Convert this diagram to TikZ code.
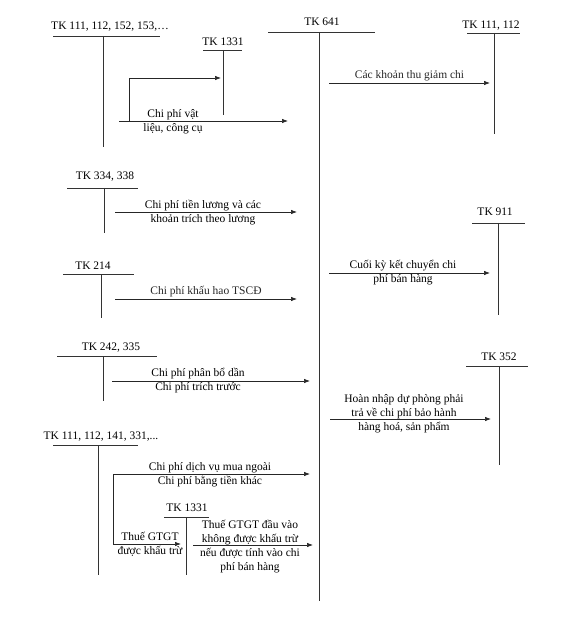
\documentclass[tikz,border=0pt]{standalone}
\usepackage{fontspec}
\setmainfont{Liberation Serif}
\usetikzlibrary{arrows.meta}
\tikzset{
  acct/.style  ={font=\fontsize{11.5}{14}\selectfont, inner sep=0pt,
                 text height=8pt, text depth=2pt},
  lbl/.style   ={font=\fontsize{11.5}{14}\selectfont, align=center,
                 inner sep=0pt},
  tline/.style ={draw=black!80, line width=0.7pt},
  ar/.style    ={-{Latex[length=6pt,width=4.5pt]}, black!85, line width=0.7pt}
}
\begin{document}
\begin{tikzpicture}[x=1pt, y=-1pt]
\useasboundingbox (0,0) rectangle (587,617);

%  TK 641 (central account)
\node[acct] (tk641) at (322,23) {TK 641};
\coordinate (tk641L) at (268,32);
\coordinate (tk641R) at (375,32);
\coordinate (tk641T) at (319,32);
\coordinate (tk641B) at (319,601);
\draw[tline] (tk641L) -- (tk641R);
\draw[tline] (tk641T) -- (tk641B);

%  Left accounts
\node[acct] (tkA) at (110,27) {TK 111, 112, 152, 153,…};
\coordinate (tkAL) at (53,36);  \coordinate (tkAR) at (160,36);
\coordinate (tkAT) at (103,36); \coordinate (tkAB) at (103,147);
\draw[tline] (tkAL) -- (tkAR);
\draw[tline] (tkAT) -- (tkAB);

\node[acct] (vatA) at (223,43) {TK 1331};
\coordinate (vatAL) at (203,50); \coordinate (vatAR) at (242,50);
\coordinate (vatAT) at (223,50); \coordinate (vatAB) at (223,115);
\draw[tline] (vatAL) -- (vatAR);
\draw[tline] (vatAT) -- (vatAB);

\node[acct] (tkB) at (105,177) {TK 334, 338};
\coordinate (tkBL) at (67,188);  \coordinate (tkBR) at (138,188);
\coordinate (tkBT) at (104,188); \coordinate (tkBB) at (104,233);
\draw[tline] (tkBL) -- (tkBR);
\draw[tline] (tkBT) -- (tkBB);

\node[acct] (tkC) at (93,266) {TK 214};
\coordinate (tkCL) at (63,274);  \coordinate (tkCR) at (134,274);
\coordinate (tkCT) at (101,274); \coordinate (tkCB) at (101,318);
\draw[tline] (tkCL) -- (tkCR);
\draw[tline] (tkCT) -- (tkCB);

\node[acct] (tkD) at (111,347) {TK 242, 335};
\coordinate (tkDL) at (57,356);  \coordinate (tkDR) at (157,356);
\coordinate (tkDT) at (103,356); \coordinate (tkDB) at (103,401);
\draw[tline] (tkDL) -- (tkDR);
\draw[tline] (tkDT) -- (tkDB);

\node[acct] (tkE) at (101,436) {TK 111, 112, 141, 331,...};
\coordinate (tkEL) at (53,445);  \coordinate (tkER) at (138,445);
\coordinate (tkET) at (98,445);  \coordinate (tkEB) at (98,575);
\draw[tline] (tkEL) -- (tkER);
\draw[tline] (tkET) -- (tkEB);

\node[acct] (vatE) at (187,508) {TK 1331};
\coordinate (vatEL) at (164,517); \coordinate (vatER) at (209,517);
\coordinate (vatET) at (186,517); \coordinate (vatEB) at (186,575);
\draw[tline] (vatEL) -- (vatER);
\draw[tline] (vatET) -- (vatEB);

%  Right accounts
\node[acct] (tkF) at (491,26) {TK 111, 112};
\coordinate (tkFL) at (467,33);  \coordinate (tkFR) at (520,33);
\coordinate (tkFT) at (494,33);  \coordinate (tkFB) at (494,134);
\draw[tline] (tkFL) -- (tkFR);
\draw[tline] (tkFT) -- (tkFB);

\node[acct] (tkG) at (495,213) {TK 911};
\coordinate (tkGL) at (472,223); \coordinate (tkGR) at (525,223);
\coordinate (tkGT) at (498,223); \coordinate (tkGB) at (498,315);
\draw[tline] (tkGL) -- (tkGR);
\draw[tline] (tkGT) -- (tkGB);

\node[acct] (tkH) at (499,357) {TK 352};
\coordinate (tkHL) at (466,366); \coordinate (tkHR) at (528,366);
\coordinate (tkHT) at (499,366); \coordinate (tkHB) at (499,465);
\draw[tline] (tkHL) -- (tkHR);
\draw[tline] (tkHT) -- (tkHB);

%  Entries into TK 641
\coordinate (a1s) at (119,121); \coordinate (a1e) at (288,121);
\coordinate (a1b) at (129,121); \coordinate (a1v) at (221,78);
\draw[ar] (a1s) -- (a1e);
\draw[ar] (a1b) |- (a1v);
\node[lbl] (a1l) at (173,122) {Chi phí vật\\liệu, công cụ};

\coordinate (a2s) at (115,212); \coordinate (a2e) at (297,212);
\draw[ar] (a2s) -- (a2e);
\node[lbl] (a2l) at (203,212.5) {Chi phí tiền lương và các\\khoản trích theo lương};

\coordinate (a3s) at (115,299); \coordinate (a3e) at (297,299);
\draw[ar] (a3s) -- (a3e) node[lbl, midway, above=2pt] (a3l) {Chi phí khấu hao TSCĐ};

\coordinate (a4s) at (112,381); \coordinate (a4e) at (310,381);
\draw[ar] (a4s) -- (a4e);
\node[lbl] (a4l) at (198,380.5) {Chi phí phân bổ dần\\Chi phí trích trước};

\coordinate (a5b) at (113,544);
\coordinate (a5e) at (310,474);
\coordinate (a5v) at (181,544);
\draw[ar] (a5b) |- (a5e);
\draw[ar] (a5b) -- (a5v);
\node[lbl] (a5l) at (210,474.5) {Chi phí dịch vụ mua ngoài\\Chi phí bằng tiền khác};
\node[lbl] (a5m) at (150,544.5) {Thuế GTGT\\được khấu trừ};

\coordinate (a6s) at (193,545); \coordinate (a6e) at (313,545);
\draw[ar] (a6s) -- (a6e);
\node[lbl] (a6l) at (250,547) {Thuế GTGT đầu vào\\không được khấu trừ\\nếu được tính vào chi\\phí bán hàng};

%  Entries out of TK 641
\coordinate (b1s) at (329,83); \coordinate (b1e) at (490,83);
\draw[ar] (b1s) -- (b1e) node[lbl, midway, above=2pt] (b1l) {Các khoản thu giảm chi};

\coordinate (b2s) at (329,273); \coordinate (b2e) at (490,273);
\draw[ar] (b2s) -- (b2e);
\node[lbl] (b2l) at (403,273) {Cuối kỳ kết chuyển chi\\phí bán hàng};

\coordinate (b3s) at (330,419); \coordinate (b3e) at (491,419);
\draw[ar] (b3s) -- (b3e);
\node[lbl] (b3l) at (404,413.5) {Hoàn nhập dự phòng phải\\trả về chi phí bảo hành\\hàng hoá, sản phẩm};
\end{tikzpicture}
\end{document}
